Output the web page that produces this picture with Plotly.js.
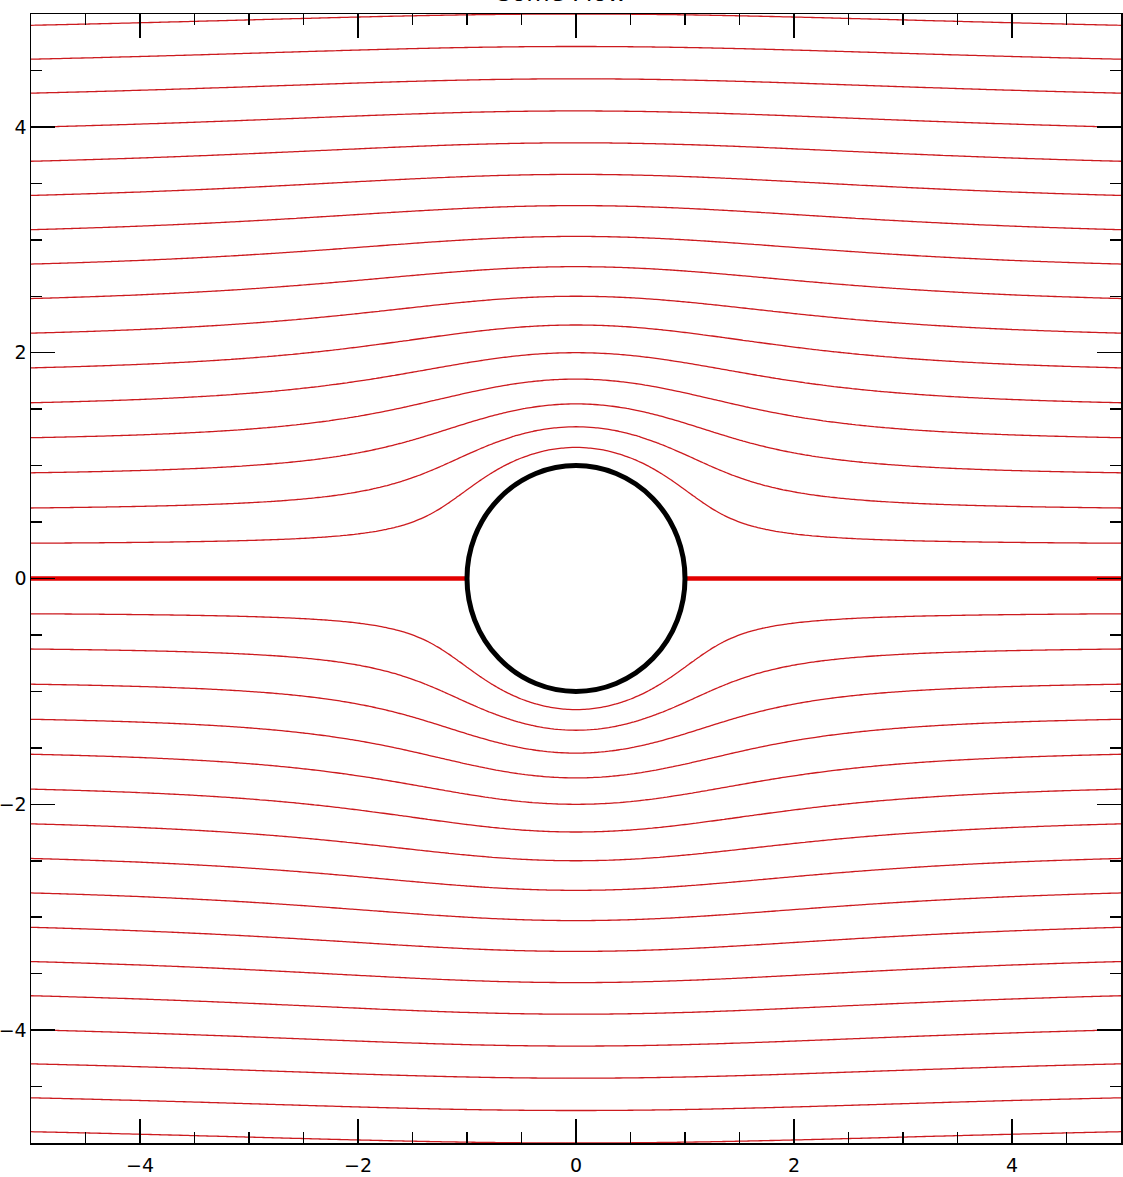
<!DOCTYPE html>
<html>
<head>
<meta charset="utf-8">
<script src="https://cdn.plot.ly/plotly-3.0.1.min.js"></script>
<style>
  html, body { margin: 0; padding: 0; background: #ffffff; }
  #chart { width: 1123px; height: 1177px; }
</style>
</head>
<body>
<div id="chart"></div>
<script>
// ---- data ----
const titleText = "Some Flow";
const xRange = [-5, 5];
const yRange = [-5, 5];
const cylinderRadius = 1;        // radius of the black circle
const levelStep = 0.3;           // spacing between streamlines (far field)
const levelMax = 4.8;            // outermost streamline value
const majorTickStep = 2;
const minorTickStep = 0.5;
const gridCount = 301;           // sampling of the stream-function field

// stream function of uniform flow past a cylinder: psi = y (1 - R^2 / r^2)
const xs = [], ys = [];
for (let i = 0; i < gridCount; i++) {
  xs.push(xRange[0] + (xRange[1] - xRange[0]) * i / (gridCount - 1));
  ys.push(yRange[0] + (yRange[1] - yRange[0]) * i / (gridCount - 1));
}
const psi = ys.map(function (y) {
  return xs.map(function (x) {
    const r2 = x * x + y * y;
    if (r2 < cylinderRadius * cylinderRadius * 0.98) return null;
    return y * (1 - cylinderRadius * cylinderRadius / r2);
  });
});

const streamColor = '#cc1a1e';

const traces = [
  {
    type: 'contour',
    x: xs, y: ys, z: psi,
    autocontour: false,
    contours: { start: -levelMax, end: levelMax + levelStep / 10, size: levelStep, coloring: 'lines', showlabels: false },
    colorscale: [[0, streamColor], [1, streamColor]],
    line: { width: 1.3, smoothing: 1 },
    showscale: false,
    connectgaps: false,
    hoverinfo: 'skip'
  },
  {
    type: 'scatter', mode: 'lines',
    x: [xRange[0], -cylinderRadius], y: [0, 0],
    line: { color: '#e30000', width: 4.5 },
    hoverinfo: 'skip', showlegend: false
  },
  {
    type: 'scatter', mode: 'lines',
    x: [cylinderRadius, xRange[1]], y: [0, 0],
    line: { color: '#e30000', width: 4.5 },
    hoverinfo: 'skip', showlegend: false
  }
];

const axisCommon = {
  showline: true, linecolor: 'black', linewidth: 1.5, mirror: 'ticks',
  ticks: 'inside', ticklen: 24, tickwidth: 1.5, tickcolor: 'black',
  tick0: 0, dtick: majorTickStep,
  showgrid: false, zeroline: false,
  minor: { tick0: 0, dtick: minorTickStep, ticks: 'inside', ticklen: 11, tickwidth: 1.5, tickcolor: 'black', showgrid: false },
  tickfont: { family: 'DejaVu Sans', size: 19, color: 'black' },
  fixedrange: true
};

const layout = {
  width: 1123, height: 1177,
  margin: { l: 31, r: 2, t: 14, b: 34, pad: 0 },
  paper_bgcolor: 'white', plot_bgcolor: 'white',
  showlegend: false,
  title: {
    text: titleText,
    font: { family: 'DejaVu Sans', size: 24, color: 'black' },
    x: 0.5, xanchor: 'center',
    yref: 'container', y: 1 - 1 / 1177, yanchor: 'bottom'
  },
  xaxis: Object.assign({}, axisCommon, { range: xRange, ticklabelstandoff: 5 }),
  yaxis: Object.assign({}, axisCommon, { range: yRange, ticklabelstandoff: -1 }),
  shapes: [
    {
      type: 'circle', xref: 'x', yref: 'y',
      x0: -cylinderRadius, x1: cylinderRadius, y0: -cylinderRadius, y1: cylinderRadius,
      line: { color: 'black', width: 5 }, fillcolor: 'white', layer: 'above'
    }
  ]
};

Plotly.newPlot('chart', traces, layout, { staticPlot: true, displayModeBar: false });
</script>
</body>
</html>
